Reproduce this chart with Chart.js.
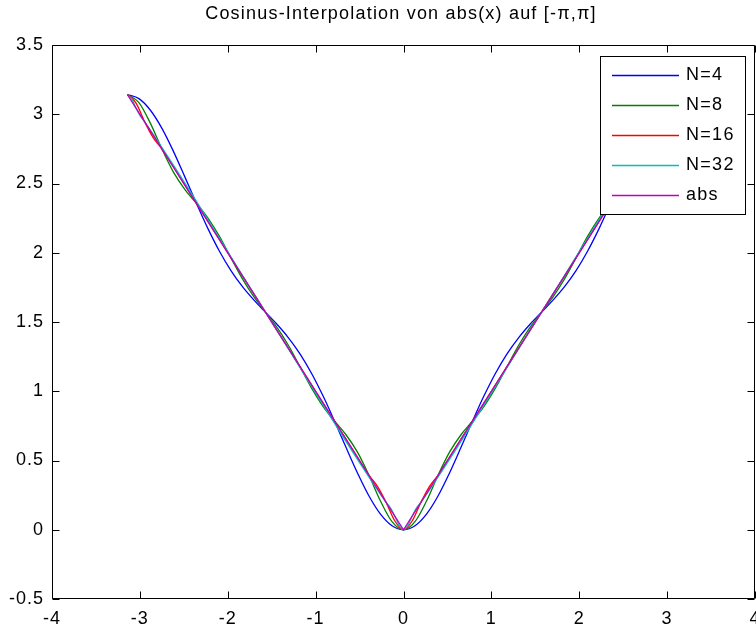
<!DOCTYPE html>
<html>
<head>
<meta charset="utf-8">
<title>Cosinus-Interpolation</title>
<script src="https://cdn.jsdelivr.net/npm/chart.js@4.4.1/dist/chart.umd.min.js"></script>
<style>
  html, body { margin: 0; padding: 0; background: #fff; }
  canvas { display: block; }
</style>
</head>
<body>
<canvas id="cosChart" width="756" height="624"></canvas>
<script>
const FONT = '"Liberation Sans", Arial, sans-serif';
const titleText = 'Cosinus-Interpolation von abs(x) auf [-\u03c0,\u03c0]';

// sample positions shared by the N=4 and N=8 curves
const xGrid = [-3.1416, -3.0107, -2.8798, -2.7489, -2.6180, -2.4871, -2.3562, -2.2253, -2.0944, -1.9635,
  -1.8326, -1.7017, -1.5708, -1.4399, -1.3090, -1.1781, -1.0472, -0.9163, -0.7854, -0.6545, -0.5236,
  -0.3927, -0.2618, -0.1309, 0, 0.1309, 0.2618, 0.3927, 0.5236, 0.6545, 0.7854, 0.9163, 1.0472, 1.1781,
  1.3090, 1.4399, 1.5708, 1.7017, 1.8326, 1.9635, 2.0944, 2.2253, 2.3562, 2.4871, 2.6180, 2.7489,
  2.8798, 3.0107, 3.1416];

const yN4 = [3.142, 3.113, 3.029, 2.898, 2.732, 2.546, 2.356, 2.174, 2.011, 1.871, 1.755, 1.658, 1.571,
  1.484, 1.386, 1.270, 1.130, 0.967, 0.785, 0.595, 0.410, 0.244, 0.113, 0.029, 0, 0.029, 0.113, 0.244,
  0.410, 0.595, 0.785, 0.967, 1.130, 1.270, 1.386, 1.484, 1.571, 1.658, 1.755, 1.871, 2.011, 2.174,
  2.356, 2.546, 2.732, 2.898, 3.029, 3.113, 3.142];

const yN8 = [3.142, 3.084, 2.934, 2.749, 2.582, 2.456, 2.356, 2.250, 2.118, 1.963, 1.811, 1.681, 1.571,
  1.461, 1.330, 1.178, 1.024, 0.891, 0.785, 0.686, 0.560, 0.393, 0.207, 0.058, 0, 0.058, 0.207, 0.393,
  0.560, 0.686, 0.785, 0.891, 1.024, 1.178, 1.330, 1.461, 1.571, 1.681, 1.811, 1.963, 2.118, 2.250,
  2.356, 2.456, 2.582, 2.749, 2.934, 3.084, 3.142];

const xN16 = [-3.1416, -3.0434, -2.9452, -2.8471, -2.7489, -2.5525, -2.3562, -2.1598, -1.9635, -1.7671,
  -1.5708, -1.3744, -1.1781, -0.9817, -0.7854, -0.5890, -0.3927, -0.2945, -0.1963, -0.0982, 0, 0.0982,
  0.1963, 0.2945, 0.3927, 0.5890, 0.7854, 0.9817, 1.1781, 1.3744, 1.5708, 1.7671, 1.9635, 2.1598,
  2.3562, 2.5525, 2.7489, 2.8471, 2.9452, 3.0434, 3.1416];
const yN16 = [3.142, 3.080, 2.945, 2.830, 2.749, 2.553, 2.356, 2.160, 1.963, 1.767, 1.571, 1.374, 1.178,
  0.982, 0.785, 0.589, 0.393, 0.312, 0.196, 0.063, 0, 0.063, 0.196, 0.312, 0.393, 0.589, 0.785, 0.982,
  1.178, 1.374, 1.571, 1.767, 1.963, 2.160, 2.356, 2.553, 2.749, 2.830, 2.945, 3.080, 3.142];

const xN32 = [-3.1416, -3.0925, -3.0434, -2.9943, -2.9452, -1.5708, -0.1963, -0.1473, -0.0982, -0.0491, 0,
  0.0491, 0.0982, 0.1473, 0.1963, 1.5708, 2.9452, 2.9943, 3.0434, 3.0925, 3.1416];
const yN32 = [3.142, 3.110, 3.043, 2.986, 2.945, 1.571, 0.196, 0.156, 0.098, 0.031, 0,
  0.031, 0.098, 0.156, 0.196, 1.571, 2.945, 2.986, 3.043, 3.110, 3.142];

const xAbs = [-3.1416, 0, 3.1416];
const yAbs = [3.1416, 0, 3.1416];

const seriesLabels = ['N=4', 'N=8', 'N=16', 'N=32', 'abs'];
const seriesColors = ['#0000ff', '#008000', '#ff0000', '#00bfbf', '#bf00bf'];

const xTicks = [-4, -3, -2, -1, 0, 1, 2, 3, 4];
const xTickLabels = ['-4', '-3', '-2', '-1', '0', '1', '2', '3', '4'];
const yTicks = [-0.5, 0, 0.5, 1, 1.5, 2, 2.5, 3, 3.5];
const yTickLabels = ['-0.5', '0', '0.5', '1', '1.5', '2', '2.5', '3', '3.5'];

function points(xs, ys) {
    return xs.map((x, i) => ({ x: x, y: ys[i] }));
}

const seriesPoints = [
    points(xGrid, yN4),
    points(xGrid, yN8),
    points(xN16, yN16),
    points(xN32, yN32),
    points(xAbs, yAbs)
];

// slightly spaced-out lettering for the tick labels
const spacing = {
    id: 'spacing',
    beforeDraw(chart) {
        chart.ctx.letterSpacing = '1px';
    }
};

// box around the plot with inward tick marks on all four sides
const axesFrame = {
    id: 'axesFrame',
    afterDatasetsDraw(chart) {
        const { ctx, chartArea: a, scales: { x, y } } = chart;
        const L = Math.round(a.left) + 0.5, R = Math.round(a.right) - 0.5;
        const T = Math.round(a.top) + 0.5, B = Math.round(a.bottom) - 0.5;
        const len = 7;
        ctx.save();
        ctx.strokeStyle = '#000';
        ctx.lineWidth = 1;
        ctx.beginPath();
        ctx.rect(L, T, R - L, B - T);
        xTicks.forEach(v => {
            const px = Math.round(x.getPixelForValue(v)) + 0.5;
            ctx.moveTo(px, B); ctx.lineTo(px, B - len);
            ctx.moveTo(px, T); ctx.lineTo(px, T + len);
        });
        yTicks.forEach(v => {
            const py = Math.round(y.getPixelForValue(v)) + 0.5;
            ctx.moveTo(L, py); ctx.lineTo(L + len, py);
            ctx.moveTo(R, py); ctx.lineTo(R - len, py);
        });
        ctx.stroke();
        ctx.restore();
    }
};

// title above the axes and the boxed legend in the upper right corner
const overlay = {
    id: 'overlay',
    afterDraw(chart) {
        const { ctx } = chart;
        ctx.save();
        ctx.fillStyle = '#000';
        ctx.font = '18px ' + FONT;
        ctx.letterSpacing = '1.2px';
        ctx.textAlign = 'center';
        ctx.textBaseline = 'middle';
        ctx.fillText(titleText, 401, 14);

        const bx = 600.5, by = 56.5, bw = 145, bh = 158;
        ctx.fillStyle = '#fff';
        ctx.fillRect(bx, by, bw, bh);
        ctx.strokeStyle = '#000';
        ctx.lineWidth = 1;
        ctx.strokeRect(bx, by, bw, bh);

        ctx.letterSpacing = '1.3px';
        ctx.textAlign = 'left';
        chart.data.datasets.forEach((ds, i) => {
            const ly = Math.round(75 + i * 30) + 0.5;
            ctx.strokeStyle = ds.borderColor;
            ctx.lineWidth = 1.3;
            ctx.beginPath();
            ctx.moveTo(612, ly);
            ctx.lineTo(679, ly);
            ctx.stroke();
            ctx.fillStyle = '#000';
            ctx.fillText(ds.label, 686, ly);
        });
        ctx.restore();
    }
};

const ctx = document.getElementById('cosChart').getContext('2d');

new Chart(ctx, {
    type: 'line',
    data: {
        datasets: seriesLabels.map((label, i) => ({
            label: label,
            data: seriesPoints[i],
            borderColor: seriesColors[i],
            backgroundColor: seriesColors[i],
            borderWidth: 1.3,
            pointRadius: 0,
            fill: false,
            cubicInterpolationMode: label === 'abs' ? 'default' : 'monotone',
            tension: 0,
            // later series are painted over the earlier ones
            order: seriesLabels.length - 1 - i
        }))
    },
    options: {
        responsive: false,
        animation: false,
        events: [],
        layout: { padding: { top: 45, right: 1, left: 0, bottom: 0 } },
        scales: {
            x: {
                type: 'linear',
                min: -4,
                max: 4,
                afterBuildTicks: s => { s.ticks = xTicks.map(v => ({ value: v })); },
                afterFit: s => { s.height = 25; s.paddingLeft = 0; s.paddingRight = 0; },
                ticks: {
                    color: '#000',
                    font: { family: FONT, size: 18 },
                    padding: 9,
                    maxRotation: 0,
                    autoSkip: false,
                    callback: (v, i) => xTickLabels[i]
                },
                grid: { display: false, drawTicks: false },
                border: { display: false }
            },
            y: {
                type: 'linear',
                min: -0.5,
                max: 3.5,
                afterBuildTicks: s => { s.ticks = yTicks.map(v => ({ value: v })); },
                afterFit: s => { s.width = 52; s.paddingTop = 0; s.paddingBottom = 0; },
                ticks: {
                    color: '#000',
                    font: { family: FONT, size: 18 },
                    padding: 8,
                    autoSkip: false,
                    callback: (v, i) => yTickLabels[i]
                },
                grid: { display: false, drawTicks: false },
                border: { display: false }
            }
        },
        plugins: {
            legend: { display: false },
            title: { display: false },
            tooltip: { enabled: false }
        }
    },
    plugins: [spacing, axesFrame, overlay]
});
</script>
</body>
</html>
